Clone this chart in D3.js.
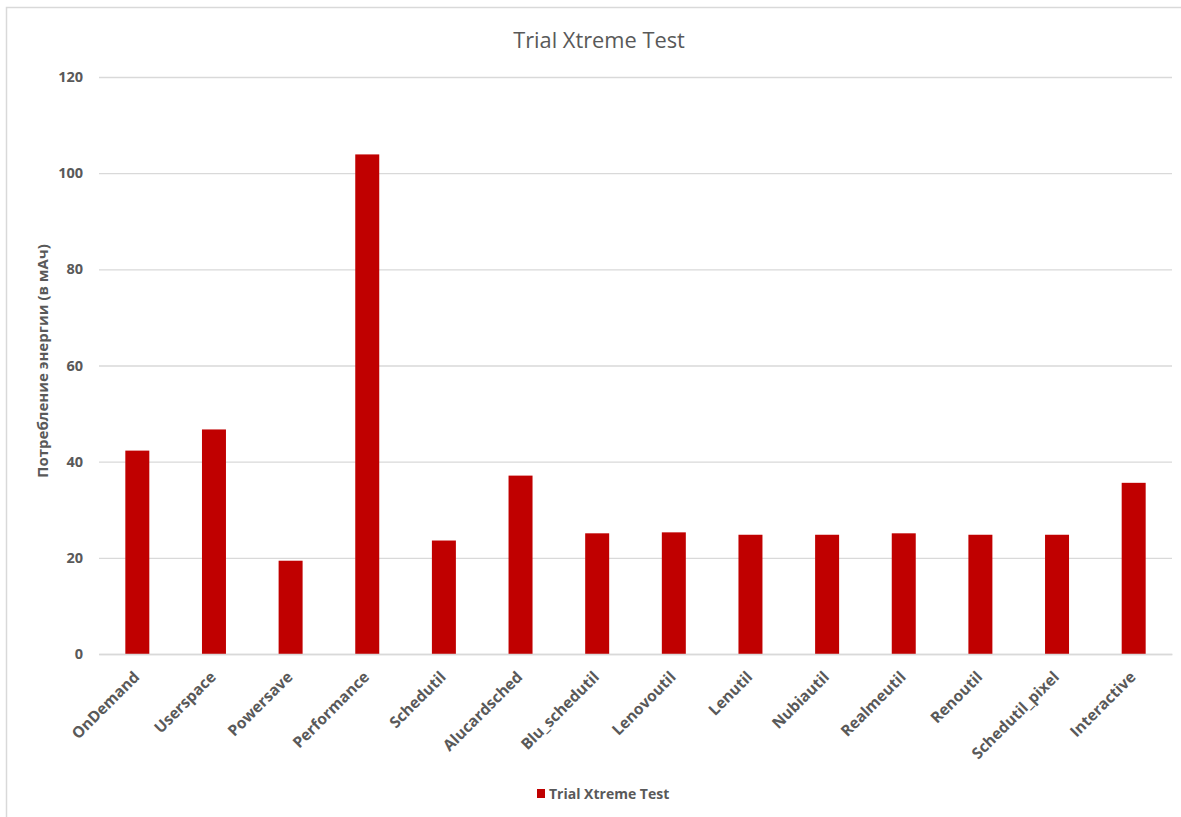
<!DOCTYPE html>
<html>
<head>
<meta charset="utf-8">
<script src="https://cdn.jsdelivr.net/npm/d3@7"></script>
<style>
  html, body { margin: 0; padding: 0; background: #fff; }
  svg { display: block; font-family: "Open Sans", Lato, sans-serif; }
</style>
</head>
<body>
<svg id="chart" width="1181" height="817"></svg>
<script>
// Energy consumption per CPU governor
const governors = ["OnDemand", "Userspace", "Powersave", "Performance", "Schedutil", "Alucardsched",
  "Blu_schedutil", "Lenovoutil", "Lenutil", "Nubiautil", "Realmeutil", "Renoutil", "Schedutil_pixel", "Interactive"];
const consumption = [42.3, 46.7, 19.4, 103.9, 23.6, 37.1, 25.1, 25.3, 24.8, 24.8, 25.1, 24.8, 24.8, 35.6];
const yTicks = [0, 20, 40, 60, 80, 100, 120];
const seriesName = "Trial Xtreme Test";
const yTitle = "Потребление энергии (в мАч)";

const svg = d3.select("#chart");
const W = 1181, H = 817;
const m = { left: 99, right: 9, top: 77, bottom: 163 };
const innerW = W - m.left - m.right, innerH = H - m.top - m.bottom;
const textColor = "#595959", gridColor = "#d9d9d9", barColor = "#c00000";
const font = "'Open Sans', Lato, sans-serif";

// chart area frame (left and top edges)
svg.append("path")
  .attr("d", `M6.5,${H} V7.5 H${W}`)
  .attr("fill", "none").attr("stroke", gridColor).attr("stroke-width", 1.5);

const x = d3.scaleBand().domain(governors).range([m.left, m.left + innerW]).paddingInner(0.687).paddingOuter(0.3435);
const y = d3.scaleLinear().domain([0, 120]).range([m.top + innerH, m.top]);

// horizontal gridlines
svg.append("g")
  .attr("transform", `translate(${m.left},0)`)
  .call(d3.axisLeft(y).tickValues(yTicks).tickSize(-innerW).tickFormat(""))
  .call(g => g.select(".domain").remove())
  .call(g => g.selectAll("line").attr("stroke", gridColor).attr("stroke-width", 1.3));

// y tick labels
svg.append("g")
  .attr("transform", `translate(${m.left - 16},0)`)
  .call(d3.axisLeft(y).tickValues(yTicks).tickSize(0).tickPadding(0))
  .call(g => g.select(".domain").remove())
  .call(g => g.selectAll("text")
    .attr("fill", textColor).attr("font-size", 14.5).attr("font-weight", "bold")
    .attr("font-family", font));

// bars
svg.append("g").selectAll("rect")
  .data(governors.map((g, i) => ({ g, v: consumption[i] })))
  .join("rect")
  .attr("x", d => x(d.g))
  .attr("width", x.bandwidth())
  .attr("y", d => y(d.v))
  .attr("height", d => y(0) - y(d.v))
  .attr("fill", barColor);

// x axis with rotated category labels
svg.append("g")
  .attr("transform", `translate(0,${y(0)})`)
  .call(d3.axisBottom(x).tickSize(0).tickPadding(0))
  .call(g => g.select(".domain").attr("stroke", gridColor).attr("stroke-width", 1.3))
  .call(g => g.selectAll("text")
    .attr("fill", textColor).attr("font-size", 15.5).attr("font-weight", "bold")
    .attr("font-family", font)
    .attr("text-anchor", "end")
    .attr("dy", null)
    .attr("transform", "translate(3,24) rotate(-45)"));

// title
svg.append("text")
  .attr("x", 599).attr("y", 48)
  .attr("text-anchor", "middle")
  .attr("fill", textColor).attr("font-size", 21.8)
  .text(seriesName);

// y axis title
svg.append("text")
  .attr("transform", `translate(48,361) rotate(-90)`)
  .attr("text-anchor", "middle")
  .attr("fill", textColor).attr("font-size", 15).attr("font-weight", "bold")
  .text(yTitle);

// legend
const lg = svg.append("g").attr("transform", "translate(537,789)");
lg.append("rect").attr("width", 8).attr("height", 9).attr("fill", barColor);
lg.append("text").attr("x", 12).attr("y", 9.5)
  .attr("fill", textColor).attr("font-size", 14).attr("font-weight", "bold")
  .text(seriesName);
</script>
</body>
</html>
